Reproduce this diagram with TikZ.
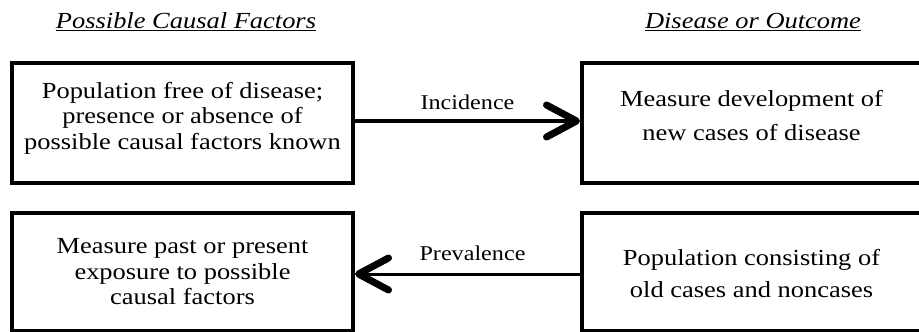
\documentclass[tikz,border=0pt]{standalone}
\usepackage{fontspec}
\setmainfont[FakeStretch=1.15]{Liberation Serif}
\usetikzlibrary{arrows.meta}

\tikzset{
  box/.style={draw, line width=4pt, rectangle, inner sep=0pt},
  boxtext/.style={inner sep=0pt, align=center, font=\fontsize{23}{#1}\selectfont},
  boxtext/.default=25.5,
  heading/.style={font=\fontsize{23}{26}\selectfont\itshape, inner sep=0pt},
  flowlabel/.style={font=\fontsize{21}{24}\selectfont, inner sep=0pt},
  flow/.style={line width=#1, -{Straight Barb[length=30pt, width=32pt, line width=7pt, round]}},
}

\begin{document}
\begin{tikzpicture}[x=1pt, y=-1pt]
  \useasboundingbox (0,0) rectangle (919,332);
  \clip (0,0) rectangle (919,332);

  % column headings
  \node[heading] (hcause) at (186,22) {\underline{Possible Causal Factors}};
  \node[heading] (hout)   at (753,22) {\underline{Disease or Outcome}};

  % upper row: cohort design
  \node[box, minimum width=341pt, minimum height=120pt] (free) at (182.5,123) {};
  \node[boxtext] (freetext) at ([yshift=5pt]free.center)
    {Population free of disease;\\presence or absence of\\possible causal factors known};
  \node[box, minimum width=339pt, minimum height=120pt] (newcases) at (751.5,123) {};
  \node[boxtext=34] (newtext) at ([yshift=7pt]newcases.center)
    {Measure development of\\new cases of disease};

  % lower row: cross-sectional design
  \node[box, minimum width=341pt, minimum height=118pt] (exposure) at (182.5,272) {};
  \node[boxtext] (exptext) at (exposure.center)
    {Measure past or present\\exposure to possible\\causal factors};
  \node[box, minimum width=339pt, minimum height=118pt] (oldcases) at (751.5,272) {};
  \node[boxtext=32] (oldtext) at ([yshift=-2pt]oldcases.center)
    {Population consisting of\\old cases and noncases};

  % connectors
  \draw[flow=4pt] ([yshift=2pt]free.east) -- ([yshift=2pt]newcases.west)
    node[flowlabel, midway, yshift=19pt] (inc) {Incidence};
  \draw[flow=3pt] ([yshift=-2pt]oldcases.west) -- ([yshift=-2pt]exposure.east)
    node[flowlabel, midway, xshift=5pt, yshift=21pt] (prev) {Prevalence};
\end{tikzpicture}
\end{document}
